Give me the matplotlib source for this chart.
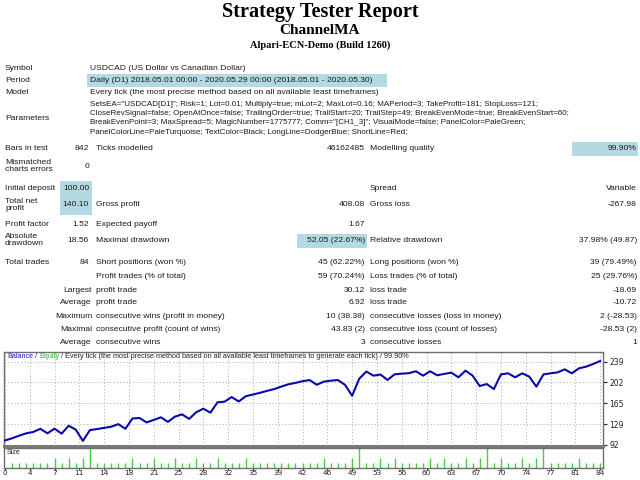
import math
import matplotlib
matplotlib.use('Agg')
import matplotlib.pyplot as plt
from matplotlib.patches import Rectangle

# ---------------- data ----------------
title_main = 'Strategy Tester Report'
title_ea = 'ChannelMA'
title_server = 'Alpari-ECN-Demo (Build 1260)'

symbol_text = 'USDCAD (US Dollar vs Canadian Dollar)'
period_text = 'Daily (D1) 2018.05.01 00:00 - 2020.05.29 00:00 (2018.05.01 - 2020.05.30)'
model_text = 'Every tick (the most precise method based on all available least timeframes)'
param_lines = [
    'SetsEA="USDCAD[D1]"; Risk=1; Lot=0.01; Multiply=true; mLot=2; MaxLot=0.16; MAPeriod=3; TakeProfit=181; StopLoss=121;',
    'CloseRevSignal=false; OpenAtOnce=false; TrailingOrder=true; TrailStart=20; TrailStep=49; BreakEvenMode=true; BreakEvenStart=60;',
    'BreakEvenPoint=3; MaxSpread=5; MagicNumber=1775777; Comm="[CH1_3]"; VisualMode=false; PanelColor=PaleGreen;',
    'PanelColorLine=PaleTurquoise; TextColor=Black; LongLine=DodgerBlue; ShortLine=Red;',
]

stat_rows = [
    ('Bars in test', '842', 'Ticks modelled', '46162485', 'Modelling quality', '99.90%'),
    ('Mismatched\ncharts errors', '0', '', '', '', ''),
    ('Initial deposit', '100.00', '', '', 'Spread', 'Variable'),
    ('Total net\nprofit', '140.10', 'Gross profit', '408.08', 'Gross loss', '-267.98'),
    ('Profit factor', '1.52', 'Expected payoff', '1.67', '', ''),
    ('Absolute\ndrawdown', '18.56', 'Maximal drawdown', '52.05 (22.67%)', 'Relative drawdown', '37.98% (49.87)'),
    ('Total trades', '84', 'Short positions (won %)', '45 (62.22%)', 'Long positions (won %)', '39 (79.49%)'),
    ('', '', 'Profit trades (% of total)', '59 (70.24%)', 'Loss trades (% of total)', '25 (29.76%)'),
    ('Largest', '', 'profit trade', '30.12', 'loss trade', '-18.69'),
    ('Average', '', 'profit trade', '6.92', 'loss trade', '-10.72'),
    ('Maximum', '', 'consecutive wins (profit in money)', '10 (38.38)', 'consecutive losses (loss in money)', '2 (-28.53)'),
    ('Maximal', '', 'consecutive profit (count of wins)', '43.83 (2)', 'consecutive loss (count of losses)', '-28.53 (2)'),
    ('Average', '', 'consecutive wins', '3', 'consecutive losses', '1'),
]

trade_no = list(range(85))
balance = [100, 103.7, 108.4, 112.5, 115, 120.5, 112.6, 120.8, 112, 126,
           119, 99.2, 118.3, 120, 122.2, 124.2, 128.8, 120.5, 138.8, 139.6,
           131.8, 136.2, 140.8, 132.8, 142, 146, 138, 149.8, 156, 149,
           167.3, 168.4, 176.5, 168.8, 178, 181, 184, 187.5, 190.6, 195,
           199, 201.5, 204.5, 206.5, 198.2, 203.7, 205.5, 206.5, 198, 178.8,
           208.9, 221.5, 214.3, 216.2, 206.7, 216.7, 217.8, 218.6, 222, 214.3,
           222, 214.9, 217.4, 219.6, 211.4, 223.1, 214.3, 196, 199.5, 190.6,
           216.5, 218.4, 211.4, 218.4, 212.5, 194.9, 216.5, 218.4, 220.1, 225.4,
           218.4, 227.2, 230.1, 234.8, 240.1]

size_trades = list(range(1, 85))
lot_size = [0.01, 0.01, 0.01, 0.01, 0.01, 0.01, 0.02, 0.01, 0.02, 0.01,
            0.02, 0.04, 0.01, 0.01, 0.01, 0.01, 0.01, 0.02, 0.01, 0.01,
            0.02, 0.01, 0.01, 0.02, 0.01, 0.01, 0.02, 0.01, 0.01, 0.02,
            0.01, 0.01, 0.01, 0.02, 0.01, 0.01, 0.01, 0.01, 0.01, 0.01,
            0.01, 0.01, 0.01, 0.01, 0.02, 0.01, 0.01, 0.01, 0.02, 0.04,
            0.01, 0.01, 0.02, 0.01, 0.02, 0.01, 0.01, 0.01, 0.01, 0.02,
            0.01, 0.02, 0.01, 0.01, 0.02, 0.01, 0.02, 0.04, 0.01, 0.02,
            0.01, 0.01, 0.02, 0.01, 0.02, 0.04, 0.01, 0.01, 0.01, 0.01,
            0.02, 0.01, 0.01, 0.01]

y_ticks = [92, 128.75, 165.5, 202.25, 239]
y_tick_labels = ['92', '129', '165', '202', '239']
x_tick_step = 3.5

chart_caption = ['Balance', ' / ', 'Equity', ' / Every tick (the most precise method based on all available least timeframes to generate each tick) / 99.90%']

# ---------------- layout ----------------
W, H = 640, 480
fig = plt.figure(figsize=(6.4, 4.8), dpi=100)
fig.patch.set_facecolor('white')

TFONT = 'Liberation Sans'
FS = 6.1
HL = '#b3d9e3'
TXT = '#1a1a1a'


def fx(x):
    return x / W


def fy(y):
    return 1 - y / H


def txt(x, y, s, ha='left', **kw):
    kw.setdefault('fontsize', FS)
    kw.setdefault('family', TFONT)
    kw.setdefault('color', TXT)
    kw.setdefault('linespacing', 1.15)
    return fig.text(fx(x), fy(y), s, ha=ha, va='center', **kw)


def box(x0, y0, x1, y1):
    fig.add_artist(Rectangle((fx(x0), fy(y1)), fx(x1) - fx(x0), fy(y0) - fy(y1),
                             transform=fig.transFigure, facecolor=HL,
                             edgecolor='none', zorder=0))


# header
txt(320, 12.5, title_main, ha='center', family='Liberation Serif', fontsize=14.6,
    weight='bold', color='black')
txt(320, 31, title_ea, ha='center', family='Liberation Serif', fontsize=11,
    weight='bold', color='black')
txt(320, 45, title_server, ha='center', family='Liberation Serif', fontsize=7.5,
    weight='bold', color='black')

# highlight boxes
box(87, 73.5, 387, 86.5)
box(572, 142, 638, 156)
box(60, 181, 92, 215)
box(297, 233.5, 367, 247.5)

LX = 5
VX = 90
# info block
txt(LX, 68, 'Symbol')
txt(VX, 68, symbol_text)
txt(LX, 80, 'Period')
txt(VX, 80, period_text)
txt(LX, 92, 'Model')
txt(VX, 92, model_text)
txt(LX, 118, 'Parameters')
for k, line in enumerate(param_lines):
    txt(VX, 104 + 9.5 * k, line, fontsize=5.8)

row_y = [149, 166, 188, 205, 224, 240, 263, 276.5, 290, 303, 316, 329.5, 342]
C1V = 89      # right edge col1 values
C2L = 96      # col2 labels
C2V = 365     # right edge col2 values
C3L = 370     # col3 labels
C3V = 637     # right edge col3 values
for i, (y, row) in enumerate(zip(row_y, stat_rows)):
    l1, v1, l2, v2, l3, v3 = row
    if i >= 8:
        txt(92, y, l1, ha='right')
    else:
        txt(LX, y, l1)
    txt(C1V, y, v1, ha='right')
    txt(C2L, y, l2)
    txt(C2V, y, v2, ha='right')
    txt(C3L, y, l3)
    txt(C3V, y, v3, ha='right')

# ---------------- charts ----------------
AX_L, AX_R = 3.5, 603
MAIN_T, MAIN_B = 352, 446
SIZE_T, SIZE_B = 448, 467.5

ax = fig.add_axes([fx(AX_L), fy(MAIN_B), fx(AX_R) - fx(AX_L), fy(MAIN_T) - fy(MAIN_B)])
ax2 = fig.add_axes([fx(AX_L), fy(SIZE_B), fx(AX_R) - fx(AX_L), fy(SIZE_T) - fy(SIZE_B)])

xticks = [x_tick_step * k for k in range(int(84 / x_tick_step) + 1)]
xlabels = [str(int(math.floor(v + 0.5))) for v in xticks]

for a in (ax, ax2):
    a.set_xlim(-0.2, 84.4)
    for sp in a.spines.values():
        sp.set_color('#6e6e6e')
        sp.set_linewidth(1.0)
    a.set_facecolor('white')

grid_kw = dict(color='#b4b4b4', linestyle=(0, (1.2, 2.2)), linewidth=0.7)
ax.set_ylim(90.2, 256)
ax.set_yticks(y_ticks)
ax.set_yticklabels(y_tick_labels)
ax.yaxis.tick_right()
ax.tick_params(axis='y', labelsize=5.5, length=3, width=0.8, pad=1.5, colors='#222222')
ax.set_xticks(xticks)
ax.tick_params(axis='x', length=0, labelbottom=False)
ax.grid(True, **grid_kw)
ax.spines['bottom'].set_linewidth(2.2)
ax.spines['bottom'].set_color('#7a7a7a')
ax.plot(trade_no, balance, color='#0a0aa8', linewidth=1.5, zorder=3)

# caption
t = ax.text(0.006, 0.95, chart_caption[0], transform=ax.transAxes, fontsize=5.2,
            family=TFONT, color='#1d1dc8', va='center', ha='left')
cols = ['#222222', '#22b522', '#222222']
for s, c in zip(chart_caption[1:], cols):
    t = ax.annotate(s, xy=(1, 0), xycoords=t, fontsize=5.2, family=TFONT,
                    color=c, va='bottom', ha='left')

ax2.set_ylim(0, 0.041)
ax2.vlines(size_trades, 0, lot_size, color='#3fcf3f', linewidth=1.0)
ax2.set_yticks([])
ax2.set_xticks(xticks)
ax2.set_xticklabels(xlabels)
ax2.tick_params(axis='x', labelsize=5.3, length=1.5, width=0.8, pad=0.6, colors='#222222')
ax2.text(0.006, 0.76, 'Size', transform=ax2.transAxes, fontsize=5.2,
         family=TFONT, color='#222222', va='center', ha='left')

fig.savefig('out.png', dpi=100, facecolor='white')
